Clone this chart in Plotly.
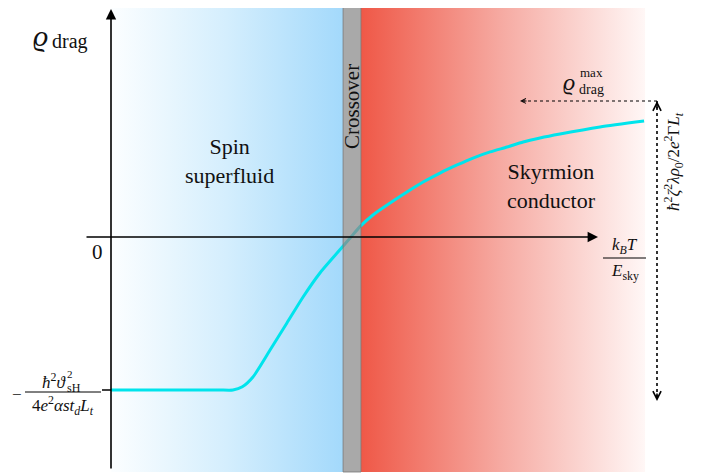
import plotly.graph_objects as go

# ---------------- data (schematic units: x = k_B T / E_sky, y = rho_drag) ----------------
T_vals = [0.0, 0.30, 0.45, 0.506, 0.545, 0.589, 0.660, 0.730, 0.797, 0.867, 0.938, 0.992,
          1.033, 1.087, 1.158, 1.228, 1.295, 1.365, 1.436, 1.502, 1.573, 1.643, 1.710, 1.780,
          1.863, 2.029, 2.212]
rho_vals = [-1.0, -1.0, -1.0, -1.0, -0.979, -0.915, -0.739, -0.562, -0.392, -0.235, -0.105, -0.007,
            0.068, 0.144, 0.222, 0.294, 0.359, 0.418, 0.471, 0.516, 0.556, 0.588, 0.621, 0.647,
            0.673, 0.719, 0.758]
rho_max = 0.889          # saturation value (dotted arrow)
rho_min = -1.0           # low-temperature value
regime_names = ["Spin\nsuperfluid", "Crossover", "Skyrmion\nconductor"]
regime_bounds = [0.0, 0.963, 1.037, 2.216]

# ---------------- pixel -> data helpers for decoration placement ----------------
XPX0, XS = 111.0, 241.0
YPX0, YS = 237.0, 153.0
def gx(px): return (px - XPX0) / XS
def gy(py): return (YPX0 - py) / YS

OFF = 8  # page body margin
SERIF = "Liberation Serif"
fig = go.Figure()

ytop, ybot = gy(5), gy(472)
b0, b1, c1, r1 = regime_bounds
fig.add_trace(go.Scatter(x=[b0, b1, b1, b0, b0], y=[ybot, ybot, ytop, ytop, ybot],
                         fill="toself", mode="lines", line=dict(width=0),
                         fillgradient=dict(type="horizontal",
                                           colorscale=[[0, "#fcfeff"], [0.5, "#d4eefd"], [1, "#a3d9fb"]]),
                         hoverinfo="skip", showlegend=False))
fig.add_trace(go.Scatter(x=[c1, r1, r1, c1, c1], y=[ybot, ybot, ytop, ytop, ybot],
                         fill="toself", mode="lines", line=dict(width=0),
                         fillgradient=dict(type="horizontal",
                                           colorscale=[[0, "#ef5847"], [0.5, "#f6aba3"], [1, "#fff7f6"]]),
                         hoverinfo="skip", showlegend=False))

# curve
fig.add_trace(go.Scatter(x=T_vals, y=rho_vals, mode="lines",
                         line=dict(color="#00e4ec", width=3, shape="spline", smoothing=0.6),
                         hoverinfo="skip", showlegend=False))

# dotted guides
xv = gx(657)
fig.add_trace(go.Scatter(x=[xv, xv], y=[rho_max, gy(401)], mode="lines",
                         line=dict(color="black", width=1.6, dash="dot"), showlegend=False, hoverinfo="skip"))
fig.add_trace(go.Scatter(x=[gx(522), xv], y=[rho_max, rho_max], mode="lines",
                         line=dict(color="black", width=1.2, dash="dot"), showlegend=False, hoverinfo="skip"))

shapes = []
shapes.append(dict(type="rect", xref="x", yref="y", x0=b1, x1=c1, y0=ybot, y1=ytop,
                   fillcolor="rgba(140,140,140,0.75)", line=dict(color="rgba(120,120,120,0.8)", width=1),
                   layer="above"))
shapes.append(dict(type="line", xref="x", yref="y", x0=gx(102), x1=0, y0=rho_min, y1=rho_min,
                   line=dict(color="black", width=1.5)))
shapes.append(dict(type="line", xref="x", yref="y", x0=gx(603), x1=gx(646), y0=gy(258), y1=gy(258),
                   line=dict(color="black", width=1)))
shapes.append(dict(type="line", xref="x", yref="y", x0=gx(25), x1=gx(101), y0=gy(392), y1=gy(392),
                   line=dict(color="black", width=1)))

ann = []
ann.append(dict(x=0, y=gy(9), ax=0, ay=gy(470), xref="x", yref="y", axref="x", ayref="y",
                text="", showarrow=True, arrowhead=2, arrowsize=1.3, arrowwidth=1.6, arrowcolor="black"))
ann.append(dict(x=gx(598), y=0, ax=gx(85), ay=0, xref="x", yref="y", axref="x", ayref="y",
                text="", showarrow=True, arrowhead=2, arrowsize=1.3, arrowwidth=1.6, arrowcolor="black"))
ann.append(dict(x=xv, y=rho_max, ax=0, ay=9, xref="x", yref="y", text="", showarrow=True,
                arrowhead=5, arrowsize=1.0, arrowwidth=1.6, arrowcolor="black"))
ann.append(dict(x=xv, y=gy(401), ax=0, ay=-9, xref="x", yref="y", text="", showarrow=True,
                arrowhead=5, arrowsize=1.0, arrowwidth=1.6, arrowcolor="black"))
ann.append(dict(x=gx(520), y=rho_max, ax=8, ay=0, xref="x", yref="y", text="", showarrow=True,
                arrowhead=5, arrowsize=0.8, arrowwidth=1.2, arrowcolor="black"))

def txt(px, py, s, size, angle=0, xa="center"):
    ann.append(dict(x=gx(px), y=gy(py), xref="x", yref="y", text=s, showarrow=False,
                    textangle=angle, font=dict(family=SERIF, size=size, color="#111"),
                    xanchor=xa, yanchor="middle"))

# rho_drag label
txt(40, 35, "<i>ϱ</i>", 30)
txt(50, 41, "drag", 20, xa="left")
txt(97, 252, "0", 21)
# x-axis label fraction
txt(625, 246, "<i>k<sub>B</sub>T</i>", 17)
txt(625, 272, "<i>E</i><sub>sky</sub>", 17)
# left value fraction
txt(17, 394, "−", 17)
txt(54, 381, "<i>ħ</i><sup>2</sup><i>ϑ</i>", 17)
txt(65, 374, "2", 11, xa="left")
txt(65, 388, "sH", 12, xa="left")
txt(63, 405, "4<i>e</i><sup>2</sup><i>αst<sub>d</sub>L<sub>t</sub></i>", 17)
# regime labels
txt(229, 161, regime_names[0].replace("\n", "<br>"), 22)
txt(551, 186, regime_names[2].replace("\n", "<br>"), 22)
txt(352, 107, regime_names[1], 21, angle=-90)
# rho max label
txt(569, 82, "<i>ϱ</i>", 24)
txt(578, 72, "max", 13, xa="left")
txt(577, 89, "drag", 14, xa="left")
# rotated value
txt(673, 162, "<i>ħ</i><sup>2</sup><i>ζ</i><sup>2</sup><i>λρ</i><sub>0</sub>/2<i>e</i><sup>2</sup>Γ<i>L<sub>t</sub></i>", 17, angle=-90)

fig.update_layout(
    width=711 - OFF, height=475 - OFF, autosize=False,
    margin=dict(l=0, r=0, t=0, b=0),
    paper_bgcolor="white", plot_bgcolor="white",
    xaxis=dict(range=[gx(OFF), gx(711)], visible=False, fixedrange=True),
    yaxis=dict(range=[gy(475), gy(OFF)], visible=False, fixedrange=True),
    shapes=shapes, annotations=ann, showlegend=False,
)
fig.write_html("out.html")
